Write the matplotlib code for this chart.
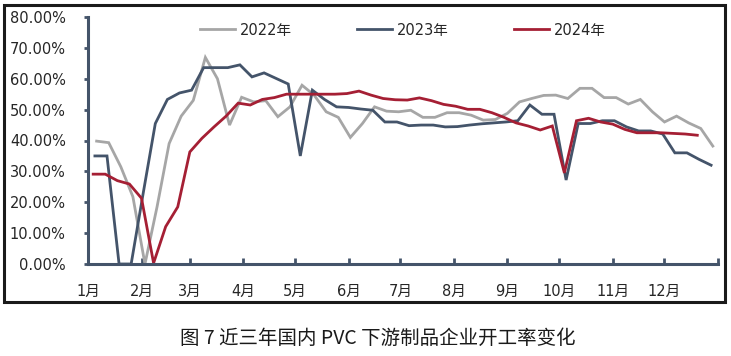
import numpy as np
import matplotlib
matplotlib.use("Agg")
import matplotlib.pyplot as plt
from matplotlib.patches import Rectangle

plt.rcParams['font.family'] = ['DejaVu Sans', 'Noto Sans CJK SC']

# weekly operating rate (%), first week day-of-year offset per year
start_2022 = 5
start_2023 = 4
start_2024 = 3

rate_2022 = [39.8, 39.3, 31.5, 21.8, 0.0, 18.5, 39.0, 47.9, 53.0, 66.9,
             60.0, 45.0, 54.0, 52.5, 52.9, 47.7, 50.9, 57.9, 54.7, 49.3,
             47.5, 41.0, 45.5, 50.9, 49.5, 49.3, 49.8, 47.5, 47.5, 49.0,
             49.0, 48.2, 46.6, 46.8, 48.8, 52.5, 53.6, 54.6, 54.7, 53.6,
             56.9, 56.9, 53.9, 53.9, 51.8, 53.3, 49.3, 46.0, 47.9, 45.7,
             43.9, 38.2]
rate_2023 = [35.0, 35.0, 0.0, 0.0, 23.0, 45.5, 53.3, 55.4, 56.3, 63.6,
             63.6, 63.6, 64.5, 60.6, 61.9, 60.1, 58.3, 35.0, 56.3, 53.3,
             50.9, 50.7, 50.2, 49.8, 46.0, 46.0, 44.8, 45.0, 45.0, 44.4,
             44.5, 45.0, 45.4, 45.7, 46.0, 46.4, 51.5, 48.5, 48.5, 27.2,
             45.5, 45.5, 46.4, 46.4, 44.4, 43.1, 43.1, 42.1, 36.0, 36.0,
             33.9, 32.0]
rate_2024 = [29.1, 29.1, 27.0, 25.9, 21.3, 0.3, 12.1, 18.5, 36.3, 40.7,
             44.4, 47.9, 52.1, 51.5, 53.3, 53.9, 55.0, 55.0, 55.0, 55.0,
             55.0, 55.2, 56.0, 54.7, 53.6, 53.2, 53.1, 53.8, 52.9, 51.7,
             51.1, 50.1, 50.1, 49.0, 47.5, 45.7, 44.7, 43.4, 44.7, 29.5,
             46.4, 47.2, 46.0, 45.3, 43.6, 42.5, 42.5, 42.5, 42.3, 42.1,
             41.7]

month_days = [0, 31, 59, 90, 120, 151, 181, 212, 243, 273, 304, 334, 365]
month_labels = ['1月', '2月', '3月', '4月', '5月', '6月', '7月', '8月',
                '9月', '10月', '11月', '12月', '']

c_axis = '#44546A'

fig = plt.figure(figsize=(7.31, 3.56), dpi=100)
ax = fig.add_axes([88/731, 1-264/356, 630/731, 247/356])

for start, vals, color, name in [(start_2022, rate_2022, '#A6A6A6', '2022年'),
                                 (start_2023, rate_2023, '#44546A', '2023年'),
                                 (start_2024, rate_2024, '#A51F34', '2024年')]:
    x = start + 7*np.arange(len(vals))
    ax.plot(x, vals, color=color, lw=2.0, label=name, solid_joinstyle='miter')

ax.set_xlim(0, 365)
ax.set_ylim(0, 80)
ax.set_yticks(np.arange(0, 81, 10))
ax.set_yticklabels(['%.2f%%' % v for v in np.arange(0, 81, 10)])
ax.set_xticks(month_days)
ax.set_xticklabels(month_labels)

for s in ['top', 'right']:
    ax.spines[s].set_visible(False)
for s in ['left', 'bottom']:
    ax.spines[s].set_color(c_axis)
    ax.spines[s].set_linewidth(2.2)

ax.tick_params(axis='y', direction='out', length=3, width=2, color=c_axis,
               pad=13, labelsize=10.5, labelcolor='#262626')
ax.tick_params(axis='x', direction='in', length=4, width=2, color=c_axis,
               pad=14, labelsize=10.5, labelcolor='#262626')

ax.legend(loc='center', bbox_to_anchor=(0.5, 0.947), ncol=3, frameon=False,
          fontsize=10.5, handlelength=2.4, handletextpad=0.3, columnspacing=4.5,
          labelcolor='#262626')

fig.patches.append(Rectangle((4/731, 1-302/356), 721/731, 297/356,
                             transform=fig.transFigure, fill=False,
                             edgecolor='#1a1a1a', lw=2.2))

fig.text(378/731, 1-338/356, '图 7 近三年国内 PVC 下游制品企业开工率变化',
         ha='center', va='center', fontsize=14, color='#1a1a1a',
         family=['Noto Sans CJK SC', 'DejaVu Sans'])

fig.savefig('out.png', dpi=100)
